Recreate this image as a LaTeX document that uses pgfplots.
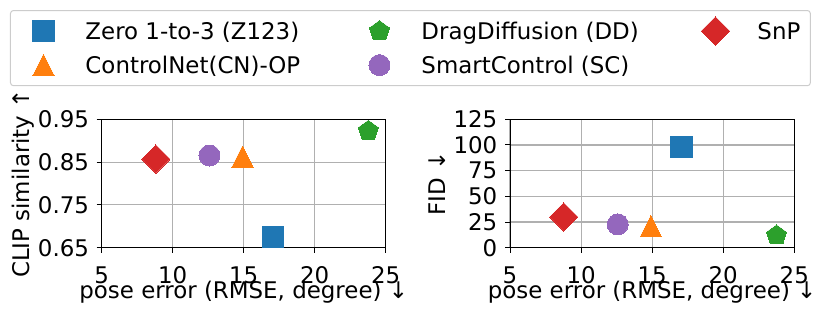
\documentclass[border=0pt]{standalone}
\usepackage{fontspec}
\setmainfont{DejaVu Sans}
\usepackage{pgfplots}
\pgfplotsset{compat=1.18}
\definecolor{tblue}{HTML}{1F77B4}
\definecolor{torange}{HTML}{FF7F0E}
\definecolor{tgreen}{HTML}{2CA02C}
\definecolor{tred}{HTML}{D62728}
\definecolor{tpurple}{HTML}{9467BD}
\pgfdeclareplotmark{mtri}{%
  \pgfpathmoveto{\pgfqpoint{0pt}{\pgfplotmarksize}}%
  \pgfpathlineto{\pgfqpoint{\pgfplotmarksize}{-\pgfplotmarksize}}%
  \pgfpathlineto{\pgfqpoint{-\pgfplotmarksize}{-\pgfplotmarksize}}%
  \pgfpathclose\pgfusepathqfillstroke}
\pgfdeclareplotmark{mpent}{%
  \pgfpathmoveto{\pgfpointpolar{90}{\pgfplotmarksize}}%
  \pgfpathlineto{\pgfpointpolar{162}{\pgfplotmarksize}}%
  \pgfpathlineto{\pgfpointpolar{234}{\pgfplotmarksize}}%
  \pgfpathlineto{\pgfpointpolar{306}{\pgfplotmarksize}}%
  \pgfpathlineto{\pgfpointpolar{18}{\pgfplotmarksize}}%
  \pgfpathclose\pgfusepathqfillstroke}
\pgfdeclareplotmark{mdia}{%
  \pgfpathmoveto{\pgfqpoint{0pt}{1.414\pgfplotmarksize}}%
  \pgfpathlineto{\pgfqpoint{1.414\pgfplotmarksize}{0pt}}%
  \pgfpathlineto{\pgfqpoint{0pt}{-1.414\pgfplotmarksize}}%
  \pgfpathlineto{\pgfqpoint{-1.414\pgfplotmarksize}{0pt}}%
  \pgfpathclose\pgfusepathqfillstroke}
\pgfdeclareplotmark{msq}{%
  \pgfpathrectangle{\pgfqpoint{-\pgfplotmarksize}{-\pgfplotmarksize}}{\pgfqpoint{2\pgfplotmarksize}{2\pgfplotmarksize}}%
  \pgfusepathqfillstroke}
\pgfplotsset{
  myax/.style={
    scale only axis, width=284bp, height=128.4bp,
    xmin=5, xmax=25, xtick={5,10,15,20,25},
    grid=major, grid style={color=black!31, line width=1.1bp},
    axis line style={line width=1bp},
    tick style={black, line width=1bp},
    tick align=outside, major tick length=5bp, tick pos=left,
    font=\fontsize{23}{28}\selectfont,
    /pgf/number format/assume math mode=true,
    xticklabel style={anchor=base, inner sep=0pt, yshift=-30.3bp},
    yticklabel style={anchor=east, inner sep=0pt, xshift=-7.5bp},
    xlabel style={at={(axis description cs:0.5,0)}, anchor=base, inner sep=0pt, yshift=-50.3bp},
    xlabel={pose error (RMSE, degree) ↓},
    legend image code/.code={\path[draw=none,fill=none] (0bp,-5bp) rectangle (30bp,5bp); \draw[#1,overlay,sharp corners] plot coordinates {(23bp,0bp)};},
  },
  mk/.style={only marks, mark=#1},
}
\begin{document}
\fontsize{23}{28}\selectfont
\begin{tikzpicture}
\useasboundingbox (0,0) rectangle (831bp,319bp);
\begin{axis}[myax, at={(101.7bp,71.3bp)}, anchor=south west,
  ymin=0.65, ymax=0.95, ytick={0.65,0.75,0.85,0.95}, yticklabels={0.65,0.75,0.85,0.95},
  ylabel={CLIP similarity ↑},
  ylabel style={at={(axis description cs:0,0.5)}, anchor=base, inner sep=0pt, yshift=72.7bp},
  legend columns=3, legend cell align=left,
  legend style={at={(axis description cs:-0.3229,1.8512)}, anchor=north west,
    draw=black!20, line width=1bp, rounded corners=3bp, fill=white,
    inner xsep=10bp, inner ysep=9bp, row sep=10.8bp,
    font=\fontsize{23}{28}\selectfont,
    nodes={inner sep=0pt, text height=20bp, text depth=3.2bp},
    /tikz/every odd column/.append style={column sep=35bp},
    /tikz/every even column/.append style={column sep=0bp}},
]
\addplot[mk=msq, mark size=10.65bp, mark options={fill=tblue, draw=tblue, line width=0pt}] coordinates {(17.08,0.6756)};
\addlegendentry{\makebox[271bp][l]{Zero 1-to-3 (Z123)}}
\addplot[mk=mpent, mark size=10.5bp, mark options={fill=tgreen, draw=tgreen, line width=0pt}] coordinates {(23.78,0.923)};
\addlegendentry{\makebox[271bp][l]{DragDiffusion (DD)}}
\addplot[mk=mdia, mark size=10bp, mark options={fill=tred, draw=tred, line width=0pt}] coordinates {(8.81,0.857)};
\addlegendentry{SnP}
\addplot[mk=mtri, mark size=10.7bp, mark options={fill=torange, draw=torange, line width=0pt}] coordinates {(14.92,0.8626)};
\addlegendentry{\makebox[271bp][l]{ControlNet(CN)-OP}}
\addplot[mk=*, mark size=10.5bp, mark options={fill=tpurple, draw=tpurple, line width=0pt}] coordinates {(12.59,0.8654)};
\addlegendentry{\makebox[271bp][l]{SmartControl (SC)}}
\end{axis}
\begin{axis}[myax, at={(510bp,71.3bp)}, anchor=south west, width=284.3bp,
  ymin=0, ymax=125, ytick={0,25,50,75,100,125},
  ylabel={FID ↓},
  ylabel style={at={(axis description cs:0,0.5)}, anchor=base, inner sep=0pt, yshift=65bp},
]
\addplot[mk=msq, mark size=10.65bp, mark options={fill=tblue, draw=tblue, line width=0pt}] coordinates {(17.07,98.3)};
\addplot[mk=mpent, mark size=10.5bp, mark options={fill=tgreen, draw=tgreen, line width=0pt}] coordinates {(23.75,11.9)};
\addplot[mk=mdia, mark size=10bp, mark options={fill=tred, draw=tred, line width=0pt}] coordinates {(8.78,29.8)};
\addplot[mk=mtri, mark size=10.7bp, mark options={fill=torange, draw=torange, line width=0pt}] coordinates {(14.91,20.9)};
\addplot[mk=*, mark size=10.5bp, mark options={fill=tpurple, draw=tpurple, line width=0pt}] coordinates {(12.58,22.7)};
\end{axis}
\end{tikzpicture}
\end{document}
